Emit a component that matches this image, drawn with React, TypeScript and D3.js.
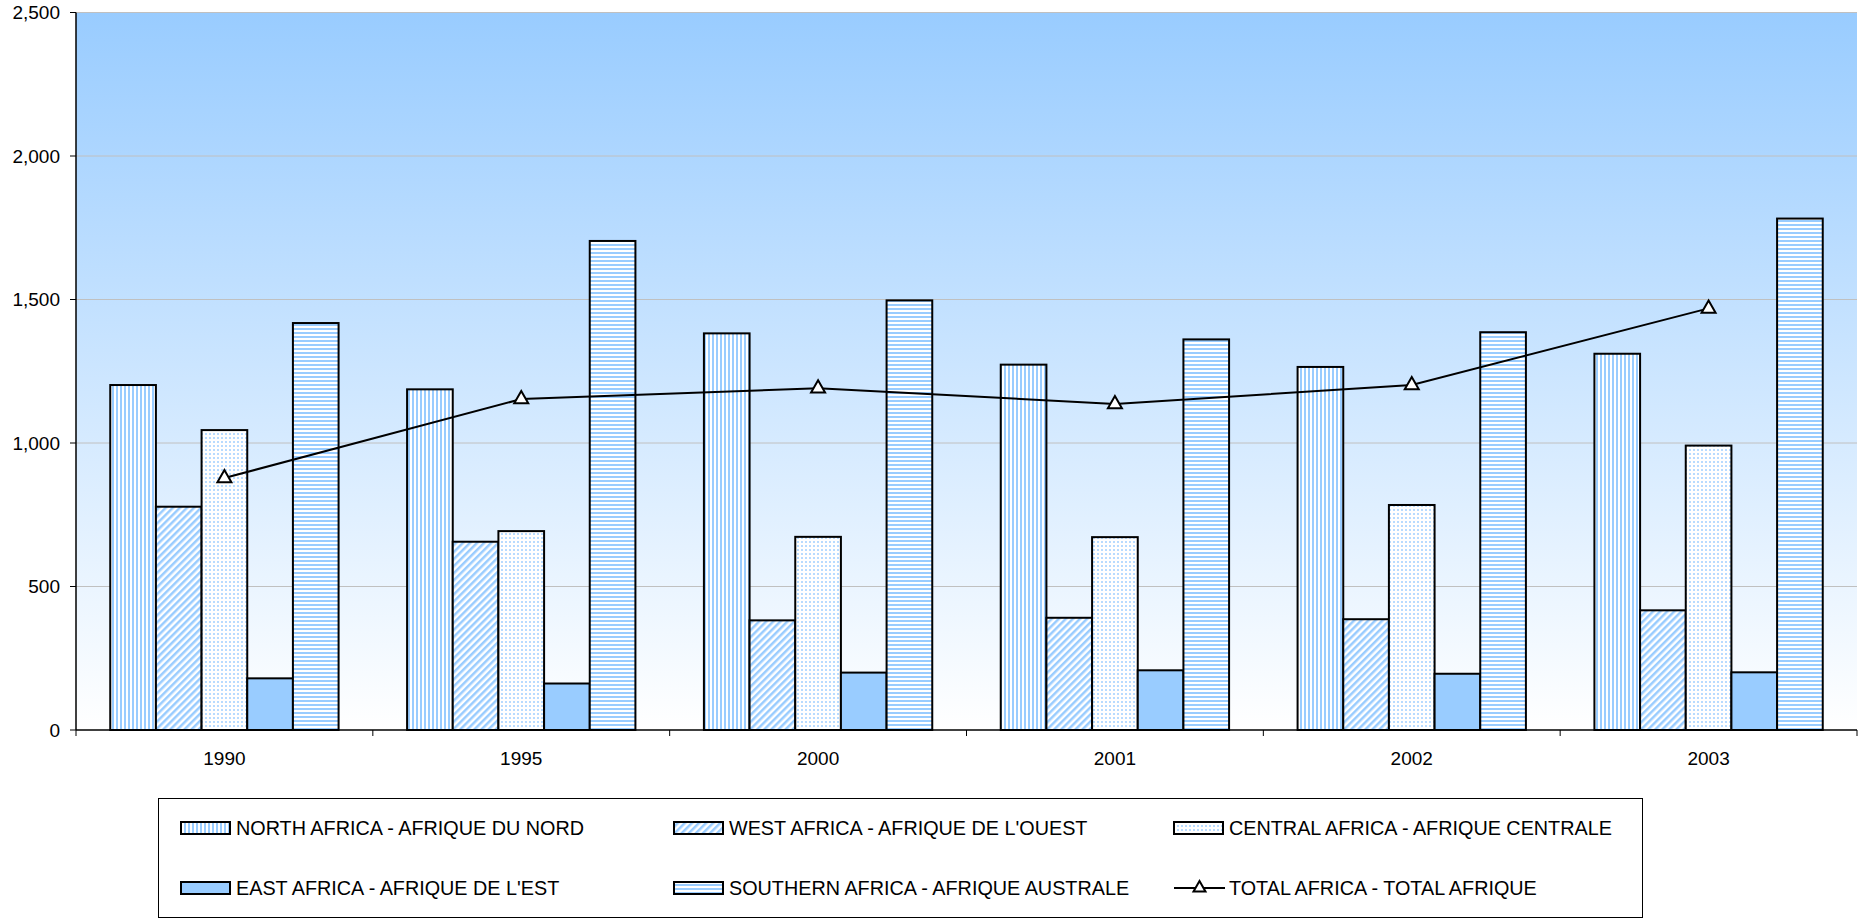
import React from "react";
import * as d3 from "d3";

const categories = ["1990", "1995", "2000", "2001", "2002", "2003"];
const seriesNames = [
  "NORTH AFRICA - AFRIQUE DU NORD",
  "WEST AFRICA - AFRIQUE DE L'OUEST",
  "CENTRAL AFRICA - AFRIQUE CENTRALE",
  "EAST AFRICA - AFRIQUE DE L'EST",
  "SOUTHERN AFRICA - AFRIQUE AUSTRALE",
];
const northAfrica = [1202, 1187, 1382, 1273, 1265, 1311];
const westAfrica = [778, 656, 382, 391, 386, 417];
const centralAfrica = [1045, 693, 673, 672, 784, 991];
const eastAfrica = [180, 162, 200, 208, 196, 201];
const southernAfrica = [1418, 1704, 1497, 1361, 1386, 1782];
const totalAfrica = [878, 1153, 1191, 1136, 1202, 1469];
const totalName = "TOTAL AFRICA - TOTAL AFRIQUE";
const yTicks = [0, 500, 1000, 1500, 2000, 2500];

const allSeries = [northAfrica, westAfrica, centralAfrica, eastAfrica, southernAfrica];
const fills = ["url(#pVert)", "url(#pDiag)", "url(#pDots)", "#99CCFF", "url(#pHorz)"];

export default function App() {
  const W = 1865, H = 922;
  const left = 76, right = 1857, top = 12.5, bottom = 730;
  const x = d3.scaleBand<string>().domain(categories).range([left, right]).paddingInner(0).paddingOuter(0);
  const y = d3.scaleLinear().domain([0, 2500]).range([bottom, top]);
  const groupW = x.bandwidth();
  const barW = groupW / (5 + 1.5);
  const offset = barW * 0.75;
  const fmt = d3.format(",");
  const lineGen = d3.line<number>()
    .x((_, i) => (x(categories[i]) as number) + groupW / 2)
    .y((d) => y(d));
  const font = "'Liberation Sans', Arial, sans-serif";
  const tri = (cx: number, cy: number, s = 7) =>
    `M${cx},${cy - s} L${cx + s},${cy + s * 0.75} L${cx - s},${cy + s * 0.75} Z`;

  const legendItems = [
    { i: 0, col: 0, row: 0 },
    { i: 1, col: 1, row: 0 },
    { i: 2, col: 2, row: 0 },
    { i: 3, col: 0, row: 1 },
    { i: 4, col: 1, row: 1 },
  ];
  const colX = [181, 674, 1174];
  const rowY = [828, 888];
  const legendFont = 19.8;

  return (
    <svg width={W} height={H} style={{ position: "absolute", left: 0, top: 0 }}>
      <defs>
        <linearGradient id="bg" x1="0" y1="0" x2="0" y2="1">
          <stop offset="0" stopColor="#99CCFF" />
          <stop offset="1" stopColor="#FFFFFF" />
        </linearGradient>
        <pattern id="pVert" width="4" height="4" patternUnits="userSpaceOnUse">
          <rect width="4" height="4" fill="#fff" />
          <rect width="2" height="4" fill="#99CCFF" />
        </pattern>
        <pattern id="pHorz" width="4" height="4" patternUnits="userSpaceOnUse">
          <rect width="4" height="4" fill="#fff" />
          <rect width="4" height="2" fill="#99CCFF" />
        </pattern>
        <pattern id="pDiag" width="5" height="5" patternUnits="userSpaceOnUse" patternTransform="rotate(45)">
          <rect width="5" height="5" fill="#fff" />
          <rect width="2.5" height="5" fill="#99CCFF" />
        </pattern>
        <pattern id="pDots" width="4" height="4" patternUnits="userSpaceOnUse">
          <rect width="4" height="4" fill="#fff" />
          <rect x="1" y="1" width="2" height="2" fill="#B8DBFF" />
        </pattern>
      </defs>
      <rect x={0} y={0} width={W} height={H} fill="#fff" />
      <rect x={left} y={top} width={right - left} height={bottom - top} fill="url(#bg)" />
      {yTicks.filter((t) => t > 0).map((t) => (
        <line key={t} x1={left} x2={right} y1={y(t)} y2={y(t)} stroke="#c0c0c0" strokeWidth={1} />
      ))}
      {categories.map((c, ci) =>
        allSeries.map((s, si) => {
          const bx = (x(c) as number) + offset + si * barW;
          return (
            <rect
              key={c + si}
              x={bx}
              y={y(s[ci])}
              width={barW}
              height={bottom - y(s[ci])}
              fill={fills[si]}
              stroke="#000"
              strokeWidth={2}
            />
          );
        })
      )}
      <line x1={left} x2={left} y1={top} y2={bottom} stroke="#000" strokeWidth={1.5} />
      <line x1={left} x2={right} y1={bottom} y2={bottom} stroke="#000" strokeWidth={1.5} />
      {yTicks.map((t) => (
        <g key={t}>
          <line x1={left - 6} x2={left} y1={y(t)} y2={y(t)} stroke="#000" strokeWidth={1} />
          <text x={60} y={y(t)} dy="0.35em" textAnchor="end" fontFamily={font} fontSize={19} fill="#000">
            {fmt(t)}
          </text>
        </g>
      ))}
      {categories.map((c) => (
        <g key={c}>
          <line x1={x(c) as number} x2={x(c) as number} y1={bottom} y2={bottom + 6} stroke="#000" strokeWidth={1} />
          <text x={(x(c) as number) + groupW / 2} y={765} textAnchor="middle" fontFamily={font} fontSize={19} fill="#000">
            {c}
          </text>
        </g>
      ))}
      <line x1={right} x2={right} y1={bottom} y2={bottom + 6} stroke="#000" strokeWidth={1} />
      <path d={lineGen(totalAfrica) || ""} fill="none" stroke="#000" strokeWidth={2} />
      {totalAfrica.map((v, i) => (
        <path key={i} d={tri((x(categories[i]) as number) + groupW / 2, y(v) - 1)} fill="#fff" stroke="#000" strokeWidth={2} />
      ))}
      <rect x={158.5} y={798.5} width={1484} height={119} fill="#fff" stroke="#000" strokeWidth={1} />
      {legendItems.map((it) => (
        <g key={it.i}>
          <rect x={colX[it.col]} y={rowY[it.row] - 6} width={49} height={12} fill={fills[it.i]} stroke="#000" strokeWidth={2} />
          <text x={colX[it.col] + 55} y={rowY[it.row]} dy="0.35em" fontFamily={font} fontSize={legendFont} fill="#000">
            {seriesNames[it.i]}
          </text>
        </g>
      ))}
      <g>
        <line x1={colX[2]} x2={colX[2] + 51} y1={rowY[1]} y2={rowY[1]} stroke="#000" strokeWidth={2} />
        <path d={tri(colX[2] + 25.5, rowY[1] - 1, 6)} fill="#fff" stroke="#000" strokeWidth={2} />
        <text x={colX[2] + 55} y={rowY[1]} dy="0.35em" fontFamily={font} fontSize={legendFont} fill="#000">
          {totalName}
        </text>
      </g>
    </svg>
  );
}
